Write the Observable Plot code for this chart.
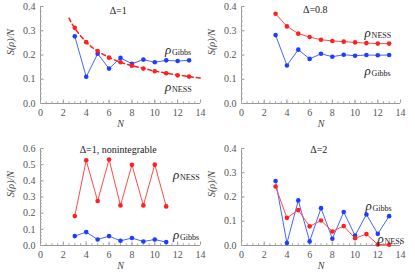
<!DOCTYPE html>
<html><head><meta charset="utf-8">
<script src="https://cdn.jsdelivr.net/npm/d3@7"></script>
<script src="https://cdn.jsdelivr.net/npm/@observablehq/plot@0.6"></script>
<style>
body{margin:0;background:#fff;}
#c{position:relative;width:415px;height:275px;overflow:hidden;}
#c svg{position:absolute;}
#c svg, #c svg text{font-family:"Liberation Serif","DejaVu Serif",serif !important;}
</style></head><body><div id="c"></div>
<script>
const N13 = [3,4,5,6,7,8,9,10,11,12,13];
const N11 = [3,4,5,6,7,8,9,10,11];
// Panel 1: Δ=1
const p1Gibbs = [0.277,0.110,0.205,0.144,0.188,0.164,0.181,0.170,0.178,0.175,0.178];
const p1Ness  = [0.312,0.253,0.216,0.189,0.170,0.156,0.144,0.133,0.125,0.116,0.111];
const p1FitN  = [2.5,3,4,5,6,7,8,9,10,11,12,13,14];
const p1Fit   = [0.352,0.310,0.253,0.216,0.190,0.170,0.156,0.144,0.134,0.125,0.118,0.111,0.105];
// Panel 2: Δ=0.8
const p2Ness  = [0.370,0.318,0.288,0.274,0.263,0.258,0.255,0.252,0.249,0.247,0.247];
const p2Gibbs = [0.282,0.157,0.222,0.184,0.205,0.193,0.201,0.197,0.200,0.199,0.200];
// Panel 3: Δ=1, nonintegrable
const p3Ness  = [0.182,0.527,0.275,0.532,0.248,0.499,0.248,0.500,0.242];
const p3Gibbs = [0.058,0.083,0.037,0.058,0.029,0.046,0.025,0.037,0.021];
// Panel 4: Δ=2
const p4Gibbs = [0.266,0.010,0.186,0.017,0.154,0.028,0.138,0.041,0.128,0.048,0.121];
const p4Ness  = [0.243,0.114,0.146,0.079,0.103,0.058,0.080,0.030,0.047,0.004,0.003];

const xTicks = [0,2,4,6,8,10,12,14];
const yTicks04 = [0,0.1,0.2,0.3,0.4];
const yTicks06 = [0,0.1,0.2,0.3,0.4,0.5,0.6];

const BLUE = "#1f3dff", BLUE_L = "#4a64ff";
const RED = "#ff1f1f", RED_L = "#ff4a4a";
const FONT = "Liberation Serif";

function zip(xs, ys){ return xs.map((x,i)=>({N:x, v:ys[i]})); }

function label(x, y, sub){
  return [
    Plot.text([0], {x: ()=>x, y: ()=>y, text: ()=>"ρ", textAnchor:"start", fontSize:13, fontStyle:"italic", fill:"#222", fontFamily: FONT}),
    Plot.text([0], {x: ()=>x, y: ()=>y, text: ()=>sub, textAnchor:"start", dx:7, dy:3, fontSize:8, fill:"#222", fontFamily: FONT})
  ];
}

function panel(o){
  const ymax = o.ymax;
  const yTicks = ymax > 0.45 ? yTicks06 : yTicks04;
  const minorY = d3.range(0, ymax + 1e-9, 0.02).map(v=>+v.toFixed(2));
  const minorX = d3.range(0, 14.01, 0.5);
  const marks = [
    Plot.ruleX([0], {stroke:"#999", strokeWidth:1}),
    Plot.ruleY([0], {stroke:"#999", strokeWidth:1}),
    Plot.axisX({ticks: xTicks, tickSize: 0, tickPadding: 5, tickFormat: d=>String(d), fill:"#555", fontSize:10, fontFamily: FONT, label:null}),
    Plot.axisX({ticks: xTicks, tickSize: -3.5, text: null, stroke:"#999", label:null}),
    Plot.axisX({ticks: minorX, tickSize: -1.8, text: null, stroke:"#aaa", label:null}),
    Plot.axisY({ticks: yTicks, tickSize: 0, tickPadding: 5, tickFormat: d3.format(".1f"), fill:"#555", fontSize:10, fontFamily: FONT, label:null}),
    Plot.axisY({ticks: yTicks, tickSize: -3.5, text: null, stroke:"#999", label:null}),
    Plot.axisY({ticks: minorY, tickSize: -1.8, text: null, stroke:"#aaa", label:null}),
    Plot.text(["S(ρ)/N"], {frameAnchor:"left", rotate:-90, dx:-30, fontSize:10, fontStyle:"italic", fill:"#444", fontFamily: FONT}),
    Plot.text(["N"], {frameAnchor:"bottom", dy:23, fontSize:10, fontStyle:"italic", fill:"#444", fontFamily: FONT}),
    Plot.text([o.title], {x: ()=>o.tx, y: ()=>o.ty, fontSize:10, fill:"#222", fontFamily: FONT}),
    ...o.extra,
    ...o.series.flatMap(s => [
      Plot.line(s.data, {x:"N", y:"v", stroke: s.line, strokeWidth: 1}),
      Plot.dot(s.data, {x:"N", y:"v", fill: s.dot, r: 2.3})
    ]),
    ...o.labels.flatMap(l => label(l[0], l[1], l[2]))
  ];
  const svg = Plot.plot({
    width: o.w, height: o.h,
    marginLeft: o.ml, marginRight: o.mr, marginTop: o.mt, marginBottom: o.mb,
    x: {domain:[0,14], axis:null},
    y: {domain:[0,ymax], axis:null},
    style: {fontFamily: FONT, background:"transparent", overflow:"visible"},
    marks
  });
  svg.style.left = o.left + "px";
  svg.style.top = o.top + "px";
  document.getElementById("c").appendChild(svg);
}

panel({left:0, top:0, w:207, h:137, ml:40, mr:7, mt:6, mb:34, ymax:0.4,
  title:"Δ=1", tx:6.8, ty:0.383,
  extra:[Plot.line(zip(p1FitN, p1Fit), {x:"N", y:"v", stroke:RED, strokeWidth:1.5, strokeDasharray:"4,3", curve:"natural"})],
  series:[{data:zip(N13,p1Gibbs), line:BLUE_L, dot:BLUE},{data:zip(N13,p1Ness), line:"none", dot:RED}],
  labels:[[10.9,0.222,"Gibbs"],[10.9,0.070,"NESS"]]});

panel({left:207, top:0, w:208, h:137, ml:34, mr:15, mt:6, mb:34, ymax:0.4,
  title:"Δ=0.8", tx:6.5, ty:0.388, extra:[],
  series:[{data:zip(N13,p2Ness), line:RED_L, dot:RED},{data:zip(N13,p2Gibbs), line:BLUE_L, dot:BLUE}],
  labels:[[10.84,0.293,"NESS"],[10.84,0.136,"Gibbs"]]});

panel({left:0, top:137, w:207, h:138, ml:40, mr:7, mt:11, mb:30, ymax:0.6,
  title:"Δ=1, nonintegrable", tx:6.8, ty:0.59, extra:[],
  series:[{data:zip(N11,p3Ness), line:RED_L, dot:RED},{data:zip(N11,p3Gibbs), line:BLUE_L, dot:BLUE}],
  labels:[[11.6,0.44,"NESS"],[11.6,0.068,"Gibbs"]]});

panel({left:207, top:137, w:208, h:138, ml:34, mr:15, mt:11, mb:30, ymax:0.4,
  title:"Δ=2", tx:6.8, ty:0.393, extra:[],
  series:[{data:zip(N13,p4Gibbs), line:BLUE_L, dot:BLUE},{data:zip(N13,p4Ness), line:RED_L, dot:RED}],
  labels:[[10.92,0.165,"Gibbs"],[11.98,0.029,"NESS"]]});
</script></body></html>
